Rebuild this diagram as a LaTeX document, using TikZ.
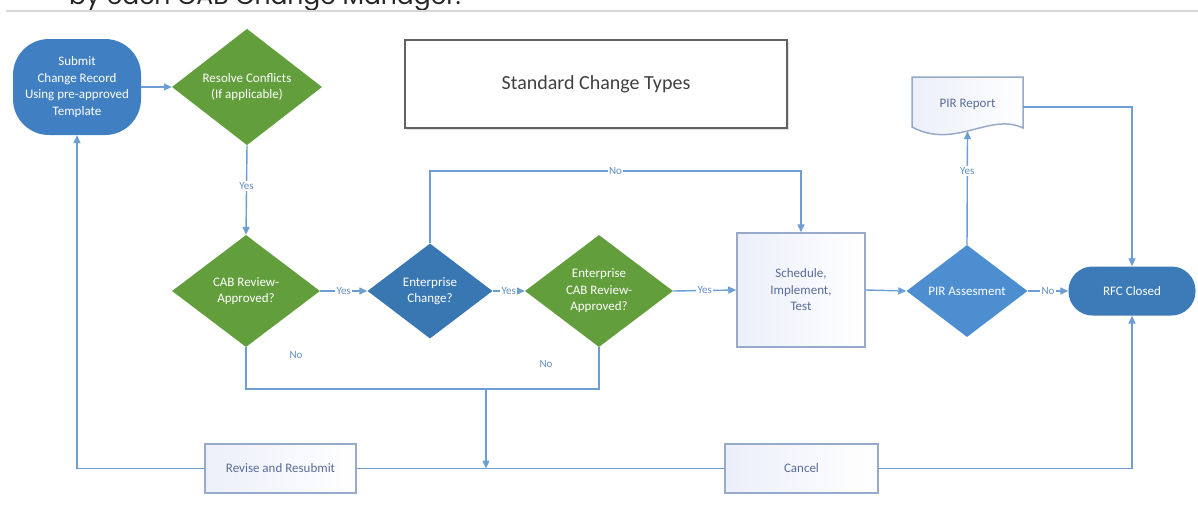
\documentclass[tikz,border=0pt]{standalone}
\usepackage{fontspec}
\setmainfont{Carlito}
\newfontfamily\headfont{Poppins}
\usetikzlibrary{shapes.geometric,arrows.meta,calc,shadows}

\definecolor{flowgreen}{RGB}{98,158,60}
\definecolor{subblue}{RGB}{64,128,194}
\definecolor{entblue}{RGB}{57,119,179}
\definecolor{pirblue}{RGB}{76,142,207}
\definecolor{rfcblue}{RGB}{60,122,184}
\definecolor{linkblue}{RGB}{108,158,212}
\definecolor{boxedge}{RGB}{152,170,202}
\definecolor{boxtext}{RGB}{88,108,152}
\definecolor{labelblue}{RGB}{98,143,198}
\definecolor{boxtint}{RGB}{236,239,250}
\definecolor{headline}{RGB}{215,215,215}

\tikzset{
  txt/.style={font=\fontsize{13}{16.5}\selectfont, align=center},
  terminal/.style={txt, rectangle, fill=#1, text=white, inner sep=0pt},
  decision/.style={txt, diamond, fill=#1, text=white, inner sep=0pt},
  process/.style={txt, rectangle, draw=boxedge, line width=1.5pt,
    left color=boxtint, right color=white, text=boxtext, inner sep=0pt},
  link/.style={draw=linkblue, line width=1.4pt},
  tip/.style={-{Triangle[length=8pt,width=7pt]}},
  lbl/.style={fill=white, text=labelblue, font=\fontsize{11}{13}\selectfont, inner sep=1.5pt},
  freelbl/.style={text=labelblue, font=\fontsize{11}{13}\selectfont, inner sep=0pt},
}

\begin{document}
\begin{tikzpicture}[x=1pt,y=-1pt]
\useasboundingbox (0,0) rectangle (1198,514);
\fill[white] (0,0) rectangle (1198,514);

% page heading above the chart, cut by the page edge
\begin{scope}
  \clip (0,0) rectangle (1198,514);
  \node[anchor=base west, inner sep=0pt, text=black!85,
        font=\headfont\fontsize{25}{30}\selectfont] (head) at (69,5)
        {by each CAB Change Manager.};
\end{scope}
\draw[headline, line width=1.2pt] (6,11) -- (1198,11);

% title box
\node[draw=black!62, line width=2.4pt, fill=white, minimum width=382pt, minimum height=88pt,
      font=\fontsize{20}{24}\selectfont, text=black!75,
      drop shadow={opacity=0.25, shadow xshift=1.5pt, shadow yshift=-1.5pt}]
      (title) at (596,84) {Standard Change Types};

% start and end
\node[terminal=subblue, rounded corners=36pt, minimum width=128pt, minimum height=96pt]
  (sub) at (77,87) {Submit\\Change Record\\Using pre-approved\\Template};
\node[terminal=rfcblue, rounded corners=24pt, minimum width=127pt, minimum height=49pt]
  (rfc) at (1132,291) {RFC Closed};

% decisions
\node[decision=flowgreen, minimum width=150pt, minimum height=116pt]
  (res) at (247,87) {Resolve Conflicts\\(If applicable)};
\node[decision=flowgreen, minimum width=148pt, minimum height=112pt]
  (cab) at (246,291) {CAB Review-\\Approved?};
\node[decision=entblue, minimum width=125pt, minimum height=95pt]
  (ent) at (430,291) {Enterprise\\Change?};
\node[decision=flowgreen, minimum width=148pt, minimum height=112pt]
  (ecab) at (599,291) {Enterprise\\CAB Review-\\Approved?};
\node[decision=pirblue, minimum width=121pt, minimum height=92pt]
  (pir) at (967,291) {PIR Assesment};

% processes
\node[process, minimum width=128pt, minimum height=114pt]
  (sch) at (801,290) {Schedule,\\Implement,\\Test};
\node[process, minimum width=151pt, minimum height=49pt]
  (rev) at (280.5,468.5) {Revise and Resubmit};
\node[process, minimum width=153pt, minimum height=49pt]
  (can) at (801.5,468.5) {Cancel};

% document shape for the report
\shade[left color=boxtint, right color=white, draw=boxedge, line width=1.5pt]
  (912,77) -- (1023,77) -- (1023,128)
  .. controls (990,112) and (955,150) .. (912,127) -- cycle;
\node[txt, text=boxtext, minimum width=111pt, minimum height=60pt, inner sep=0pt]
  (rep) at (967.5,107) {\raisebox{7pt}{PIR Report}};
\coordinate (repwave) at ($(rep.south)+(0,-6)$);

% connectors
\draw[link,tip] (sub) -- (res);
\draw[link,tip] (res.south) -- node[lbl, pos=0.45]{Yes} (cab.north);
\draw[link,tip] (cab.east) -- node[lbl]{Yes} (ent.west);
\draw[link,tip] (ent.east) -- node[lbl]{Yes} (ecab.west);
\draw[link,tip] (ecab.east) -- node[lbl]{Yes} (sch.west);
\coordinate (nobend) at (430,171);
\draw[link,tip] (ent.north) -- (nobend) -| node[lbl, pos=0.25]{No} (sch.north);
\draw[link,tip] (sch.east) -- (pir.west);
\draw[link,tip] (pir.east) -- node[lbl]{No} (rfc.west);
\draw[link,tip] (pir.north) -- node[lbl, pos=0.65]{Yes} (repwave);
\draw[link,tip] (rep.east) -| (rfc.north);

\coordinate (nojoin) at (486,389);
\draw[link] (cab.south) -- (cab.south |- nojoin) -- (ecab.south |- nojoin) -- (ecab.south);
\node[freelbl] (nocab) at (296,355) {No};
\node[freelbl] (noecab) at (546,364) {No};
\draw[link,tip] (nojoin) -- (nojoin |- rev.east);
\draw[link] (rev.east) -- (can.west);
\draw[link,tip] (rev.west) -| (sub.south);
\draw[link,tip] (can.east) -| (rfc.south);
\end{tikzpicture}
\end{document}
